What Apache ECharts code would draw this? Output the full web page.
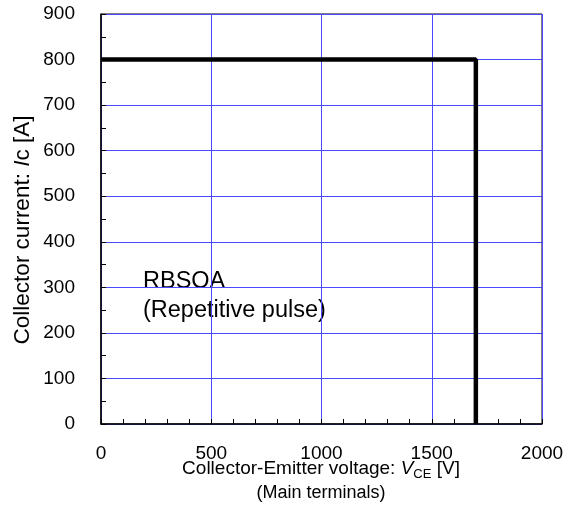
<!DOCTYPE html>
<html>
<head>
<meta charset="utf-8">
<script src="https://cdn.jsdelivr.net/npm/echarts@6/dist/echarts.min.js"></script>
<style>
html,body{margin:0;padding:0;background:#fff;}
#c{width:570px;height:506px;}
</style>
</head>
<body>
<div id="c"></div>
<script>
// Data
const voltage = [0, 1700, 1700];
const current = [800, 800, 0];
const xTicks = [0, 500, 1000, 1500, 2000];
const yTicks = [0, 100, 200, 300, 400, 500, 600, 700, 800, 900];
const noteLines = ['RBSOA', '(Repetitive pulse)'];

const FONT = 'Liberation Sans, Arial, sans-serif';
const chart = echarts.init(document.getElementById('c'), null, {renderer: 'canvas'});

const seriesData = voltage.map((v, i) => [v, current[i]]);

chart.setOption({
  animation: false,
  backgroundColor: '#ffffff',
  grid: {
    left: 101, top: 14, right: 28, bottom: 82,
    show: true, borderColor: '#000', borderWidth: 1, backgroundColor: 'transparent'
  },
  xAxis: {
    type: 'value',
    min: xTicks[0], max: xTicks[xTicks.length - 1], interval: 500,
    axisLine: {show: true, onZero: false, lineStyle: {color: '#000', width: 1.5}},
    axisTick: {show: true, inside: true, length: 5, lineStyle: {color: '#000'}},
    minorTick: {show: true, splitNumber: 5, length: 5, lineStyle: {color: '#000'}},
    splitLine: {show: true, lineStyle: {color: '#4a4aff', width: 1}},
    axisLabel: {color: '#000', fontFamily: FONT, fontSize: 19, margin: 20, formatter: v => String(v)}
  },
  yAxis: {
    type: 'value',
    min: yTicks[0], max: yTicks[yTicks.length - 1], interval: 100,
    axisLine: {show: true, onZero: false, lineStyle: {color: '#000', width: 1.5}},
    axisTick: {show: true, inside: true, length: 5, lineStyle: {color: '#000'}},
    minorTick: {show: true, splitNumber: 2, length: 5, lineStyle: {color: '#000'}},
    splitLine: {show: true, lineStyle: {color: '#4a4aff', width: 1}},
    axisLabel: {color: '#000', fontFamily: FONT, fontSize: 19, margin: 26, formatter: v => String(v)}
  },
  graphic: [{
    type: 'text',
    left: 143, top: 267,
    style: {
      text: noteLines.join('\n'),
      font: '23.5px ' + FONT,
      fill: '#000',
      lineHeight: 29
    }
  }, {
    type: 'text',
    x: 23, y: 230,
    rotation: Math.PI / 2,
    style: {
      text: '{n|Collector current: }{i|I}{n|c [A]}',
      align: 'center', verticalAlign: 'middle',
      rich: {
        n: {fontFamily: FONT, fontSize: 22.5, color: '#000'},
        i: {fontFamily: FONT, fontSize: 22.5, color: '#000', fontStyle: 'italic'}
      }
    }
  }, {
    type: 'text',
    x: 321, y: 469,
    style: {
      text: '{n|Collector-Emitter voltage: }{i|V}{s|CE}{n| [V]}',
      align: 'center', verticalAlign: 'middle',
      rich: {
        n: {fontFamily: FONT, fontSize: 19, color: '#000', lineHeight: 24},
        i: {fontFamily: FONT, fontSize: 19, color: '#000', fontStyle: 'italic', lineHeight: 24},
        s: {fontFamily: FONT, fontSize: 13, color: '#000', lineHeight: 24, verticalAlign: 'bottom', padding: [7, 0, 0, 0]}
      }
    }
  }, {
    type: 'text',
    x: 321, y: 493,
    style: {
      text: '(Main terminals)',
      align: 'center', verticalAlign: 'middle',
      font: '18px ' + FONT,
      fill: '#000'
    }
  }],
  series: [{
    type: 'line',
    data: seriesData,
    showSymbol: false,
    symbol: 'none',
    lineStyle: {color: '#000', width: 4.5},
    z: 5
  }]
});
</script>
</body>
</html>
